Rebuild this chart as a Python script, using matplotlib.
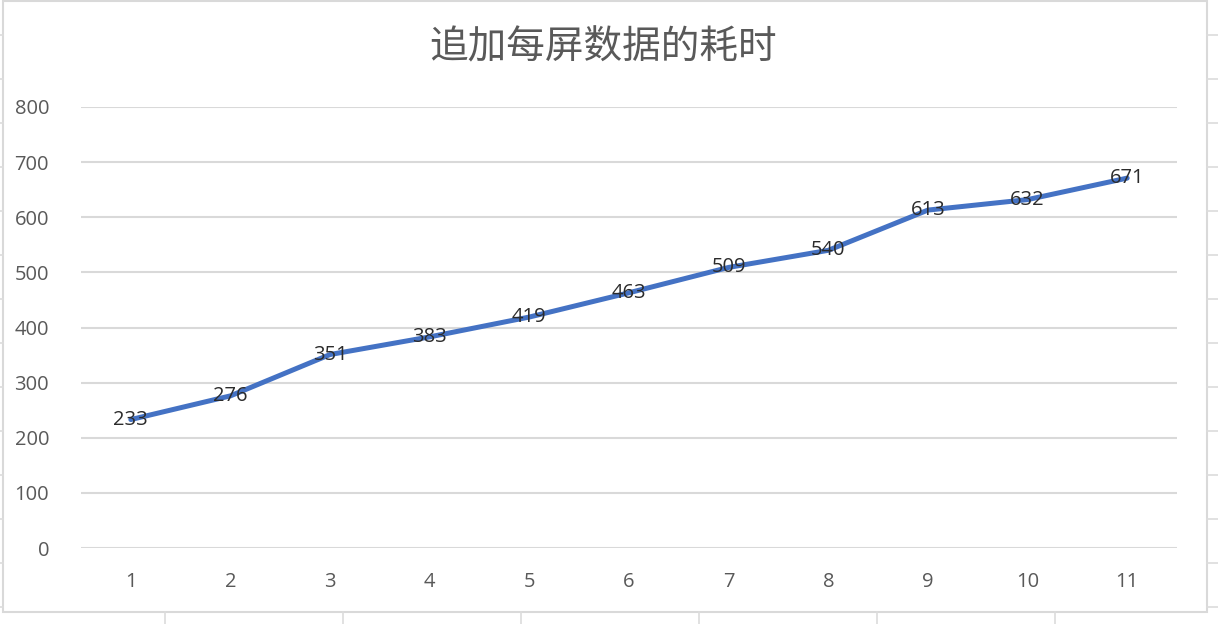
import matplotlib.pyplot as plt
from matplotlib.lines import Line2D
from matplotlib.patches import Rectangle

# data
screens = [1, 2, 3, 4, 5, 6, 7, 8, 9, 10, 11]
cost_ms = [233, 276, 351, 383, 419, 463, 509, 540, 613, 632, 671]
y_ticks = [0, 100, 200, 300, 400, 500, 600, 700, 800]
title = "追加每屏数据的耗时"

W, H = 1218, 624
grid_color = "#d9d9d9"
text_color = "#595959"

plt.rcParams['font.family'] = ['Open Sans', 'Noto Sans CJK SC', 'DejaVu Sans']

fig = plt.figure(figsize=(W / 100, H / 100), dpi=100)
ax = fig.add_axes([81 / W, 1 - 548 / H, (1177 - 81) / W, (548 - 107) / H])

ax.plot(screens, cost_ms, color="#4472C4", linewidth=3.6,
        solid_capstyle="round", solid_joinstyle="round", zorder=3)
for x, v in zip(screens, cost_ms):
    ax.text(x, v, str(v), ha="center", va="center", fontsize=14.5,
            color="#2b2b2b", zorder=4)

ax.set_xlim(0.5, len(screens) + 0.5)
ax.set_ylim(0, 800)
ax.set_xticks(screens)
ax.set_xticklabels([str(s) for s in screens])
ax.set_yticks(y_ticks)
ax.set_yticklabels([str(t) for t in y_ticks])
ax.tick_params(axis="both", length=0, labelsize=14.5, labelcolor=text_color)
ax.tick_params(axis="y", pad=23)
ax.tick_params(axis="x", pad=17)
ax.grid(axis="y", color=grid_color, linewidth=1.5)
ax.set_axisbelow(True)
for s in ax.spines.values():
    s.set_visible(False)

fig.text(603 / W, 1 - 47 / H, title, ha="center", va="center",
         fontsize=27.8, color=text_color,
         family=['Noto Sans CJK SC', 'DejaVu Sans'])

# chart border
fig.add_artist(Rectangle((3 / W, 1 - 612 / H), (1207 - 3) / W, (612 - 1) / H,
                         transform=fig.transFigure, fill=False,
                         edgecolor=grid_color, linewidth=1.5))

# spreadsheet cell lines peeking out around the chart
sheet = "#dcdcdc"
for yp in range(35, 612, 44):
    fig.add_artist(Line2D([0, 3 / W], [1 - yp / H] * 2, color=sheet, lw=1.2))
    fig.add_artist(Line2D([1207 / W, 1], [1 - yp / H] * 2, color=sheet, lw=1.2))
for xp in range(165, 1207, 178):
    fig.add_artist(Line2D([xp / W] * 2, [0, 1 - 612 / H], color=sheet, lw=1.2))

fig.savefig("out.png", dpi=100)
